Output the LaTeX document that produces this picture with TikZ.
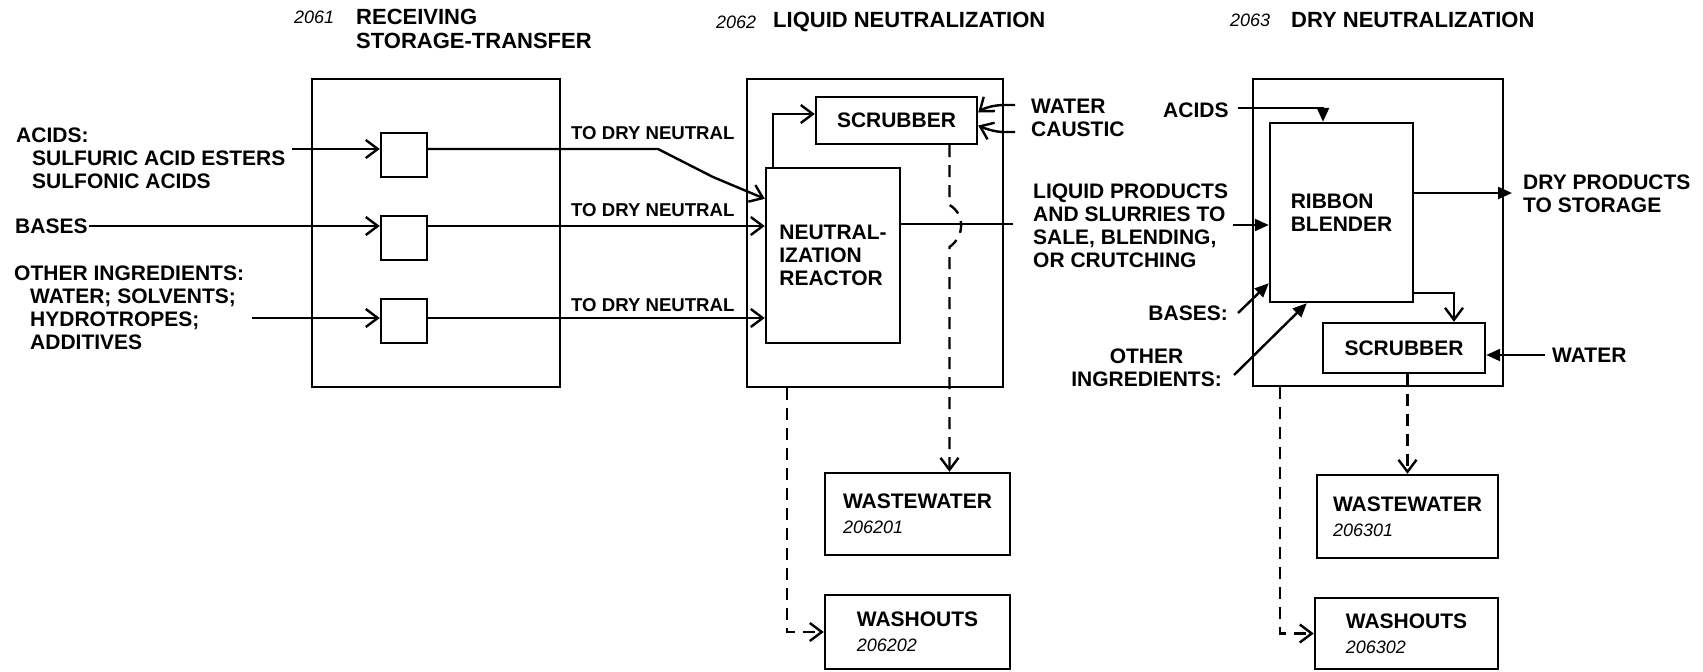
\documentclass[tikz,border=0pt]{standalone}
\usepackage{fontspec}
\setmainfont{Liberation Sans}
\usetikzlibrary{arrows.meta}

\begin{document}
\begin{tikzpicture}[x=0.5pt,y=-0.5pt,line width=1.2pt,
    txt/.style={inner sep=0pt,align=left,font=\fontsize{10.5}{11.5}\selectfont\bfseries},
    ttl/.style={inner sep=0pt,align=left,font=\fontsize{11}{12}\selectfont\bfseries},
    num/.style={inner sep=0pt,font=\fontsize{9}{10}\selectfont\itshape},
    small/.style={inner sep=0pt,font=\fontsize{9.3}{10}\selectfont\bfseries},
    frame/.style={draw,inner sep=0pt},
    unit/.style={draw,txt},
    tank/.style={draw,inner sep=0pt,minimum width=23pt,minimum height=22pt},
    flow/.style={-{Straight Barb[length=6pt,width=9pt]}},
    feed/.style={-{Triangle[length=7pt,width=6pt]}},
    drain/.style={flow,dash pattern=on 6pt off 4pt}]
\useasboundingbox (0,0) rectangle (1703,671);

% titles
\node[num,anchor=west] (n2061) at (293,17) {2061};
\node[ttl,anchor=west] (t2061) at (355,29) {RECEIVING\\STORAGE-TRANSFER};
\node[num,anchor=west] (n2062) at (715,22) {2062};
\node[ttl,anchor=west] (t2062) at (772,22) {LIQUID NEUTRALIZATION};
\node[num,anchor=west] (n2063) at (1229,20) {2063};
\node[ttl,anchor=west] (t2063) at (1290,20) {DRY NEUTRALIZATION};

% frames
\node[frame,minimum width=124pt,minimum height=154pt] (f2061) at (436,233) {};
\node[frame,minimum width=128pt,minimum height=154pt] (f2062) at (875,233) {};
\node[frame,minimum width=125pt,minimum height=153.5pt] (f2063) at (1378,232.5) {};

% 2061
\node[tank] (tk1) at (404,155) {};
\node[tank] (tk2) at (404,238) {};
\node[tank] (tk3) at (404,321) {};

% 2062
\node[unit,minimum width=67pt,minimum height=87.5pt] (reactor) at (833,255.5) {NEUTRAL-\\IZATION\\REACTOR};
\node[unit,minimum width=80.5pt,minimum height=23.5pt] (scrub1) at (896.5,120.5) {SCRUBBER};
\node[unit,minimum width=92.5pt,minimum height=41pt] (ww1) at (917.5,514)
    {WASTEWATER\\[1pt]{\mdseries\itshape\fontsize{9}{10}\selectfont 206201}};
\node[unit,minimum width=92.5pt,minimum height=37pt] (wo1) at (917.5,632)
    {WASHOUTS\\[1pt]{\mdseries\itshape\fontsize{9}{10}\selectfont 206202}};

% 2063
\node[unit,minimum width=71.5pt,minimum height=89.5pt] (blender) at (1341.5,212.5) {RIBBON\\BLENDER};
\node[unit,minimum width=81pt,minimum height=25pt] (scrub2) at (1404,348) {SCRUBBER};
\node[unit,minimum width=90.5pt,minimum height=41.5pt] (ww2) at (1407.5,516.5)
    {WASTEWATER\\[1pt]{\mdseries\itshape\fontsize{9}{10}\selectfont 206301}};
\node[unit,minimum width=91.5pt,minimum height=35.5pt] (wo2) at (1406.5,633.5)
    {WASHOUTS\\[1pt]{\mdseries\itshape\fontsize{9}{10}\selectfont 206302}};

% labels
\node[txt,anchor=west] (acids) at (15,158.5) {ACIDS:\\\hspace*{8pt}SULFURIC ACID ESTERS\\\hspace*{8pt}SULFONIC ACIDS};
\node[txt,anchor=west] (bases) at (14,226) {BASES};
\node[txt,anchor=west] (others) at (13,307.5) {OTHER INGREDIENTS:\\\hspace*{8pt}WATER; SOLVENTS;\\\hspace*{8pt}HYDROTROPES;\\\hspace*{8pt}ADDITIVES};
\foreach \y/\n in {133/1,210/2,305/3}
    \node[small,anchor=west] (dry\n) at (570,\y) {TO DRY NEUTRAL};
\node[txt,anchor=west] (wc) at (1030,118) {WATER\\CAUSTIC};
\node[txt,anchor=west] (liquid) at (1032,225.5) {LIQUID PRODUCTS\\AND SLURRIES TO\\SALE, BLENDING,\\OR CRUTCHING};
\node[txt,anchor=west] (acids2) at (1162,110) {ACIDS};
\node[txt,anchor=east] (bases2) at (1229,313) {BASES:};
\node[txt,anchor=east,align=center] (others2) at (1223,367.5) {OTHER\\INGREDIENTS:};
\node[txt,anchor=west] (dry) at (1522,194) {DRY PRODUCTS\\TO STORAGE};
\node[txt,anchor=west] (water2) at (1551,355) {WATER};

% receiving lines
\coordinate (a1) at (292,149);
\coordinate (o1) at (252,318);
\draw[flow] (a1) -- (a1 -| tk1.west);
\draw[flow] (bases.east) -- (bases.east -| tk2.west);
\draw[flow] (o1) -- (o1 -| tk3.west);
\draw[flow] (a1 -| tk1.east) -- (658,149) -- (713,177) -- ([yshift=-16pt]reactor.north west);
\draw[flow] (bases.east -| tk2.east) -- (bases.east -| reactor.west);
\draw[flow] (o1 -| tk3.east) -- (o1 -| reactor.west);

% liquid neutralization
\draw[flow] ([xshift=4pt]reactor.north west) |- ([yshift=3.25pt]scrub1.west);
\coordinate (w1) at (1015,105);
\coordinate (c1) at (1015,132);
\draw[flow] (w1) -- (1004,105) .. controls (994,105) and (984,108) .. ([yshift=4pt]scrub1.east);
\draw[flow] (c1) -- (1004,132) .. controls (994,132) and (984,128) .. ([yshift=-2.5pt]scrub1.east);
\coordinate (p1) at (1013,224);
\draw (p1 -| reactor.east) -- (p1);
\draw[drain] ([xshift=26.5pt]scrub1.south) -- (949.5,205) .. controls (965,214) and (965,236) .. (949.5,247) -- ([xshift=16pt]ww1.north);
\draw[drain] ([xshift=-44pt]f2062.south) |- (wo1.west);

% dry neutralization
\coordinate (a2) at (1238,108);
\draw[feed] (a2) -| ([xshift=-9.25pt]blender.north);
\coordinate (l1) at (1233,225);
\draw[feed] (l1) -- (l1 -| blender.west);
\draw[feed] ([xshift=4.5pt]bases2.east) -- ([yshift=10pt]blender.south west);
\coordinate (o2) at (1234,375);
\draw[feed] (o2) -- ([xshift=19pt]blender.south west);
\coordinate (d1) at (1512,193);
\draw[feed] (d1 -| blender.east) -- (d1);
\draw[flow] ([yshift=5pt]blender.south east) -| ([xshift=25pt]scrub2.north);
\draw[feed] ([xshift=-3pt]water2.west) -- (water2.west -| scrub2.east);
\draw[drain] (ww2.north |- scrub2.south) -- (ww2.north);
\draw[drain] ([xshift=-49pt]f2063.south) |- (wo2.west);
\end{tikzpicture}
\end{document}
